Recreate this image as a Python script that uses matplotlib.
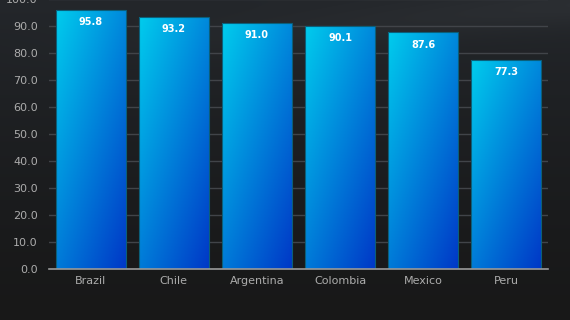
import numpy as np
import matplotlib
matplotlib.use("Agg")
import matplotlib.pyplot as plt

countries = ["Brazil", "Chile", "Argentina", "Colombia", "Mexico", "Peru"]
values = [95.8, 93.2, 91.0, 90.1, 87.6, 77.3]
yticks = [0, 10, 20, 30, 40, 50, 60, 70, 80, 90, 100]

fig = plt.figure(figsize=(5.7, 3.2), dpi=100)

# dark background with a soft lighter swoosh at the top
bg = fig.add_axes([0, 0, 1, 1], zorder=-10)
yy, xx = np.mgrid[0:1:320j, 0:1:570j]
base = 0.095 + 0.045 * (1 - yy) ** 1.5
swoosh = np.exp(-((yy - 0.02 - 0.15 * (1 - xx)) ** 2) / 0.004) * 0.03 * xx
l = base + swoosh
img = np.dstack([l, l + 0.012 * (1 - yy), l + 0.028 * (1 - yy)])
bg.imshow(np.clip(img, 0, 1), aspect="auto", extent=(0, 1, 0, 1), origin="upper")
bg.axis("off")

ax = fig.add_axes([49 / 570, 51 / 320, 499 / 570, 270 / 320])
ax.set_facecolor("none")

x = np.arange(len(countries))
bars = ax.bar(x, values, width=0.84, color="none", edgecolor="#0b5f7a", linewidth=0.8, zorder=3)

# diagonal gradient inside each bar
gy, gx = np.mgrid[0:1:200j, 0:1:50j]
t = np.clip(0.55 * gy + 0.45 * gx, 0, 1)
top = np.array([0.0, 0.80, 0.93])
bot = np.array([0.0, 0.22, 0.78])
grad = top[None, None, :] * (1 - t[..., None]) + bot[None, None, :] * t[..., None]
for b in bars:
    x0, w, h = b.get_x(), b.get_width(), b.get_height()
    im = ax.imshow(grad, aspect="auto", extent=(x0, x0 + w, 0, h), origin="upper", zorder=2)
    im.set_clip_path(b)

for xi, v in zip(x, values):
    ax.text(xi, v - 2.6, f"{v:.1f}", ha="center", va="top", color="white",
            fontsize=7, fontweight="bold", zorder=4)

ax.set_xlim(-0.5, len(countries) - 0.5)
ax.set_ylim(0, 100)
ax.set_yticks(yticks)
ax.set_yticklabels([f"{v:.1f}" for v in yticks])
ax.set_xticks(x)
ax.set_xticklabels(countries)
ax.tick_params(axis="both", length=0, colors="#acacac", labelsize=8)
ax.tick_params(axis="y", pad=8)
ax.tick_params(axis="x", pad=5)
ax.yaxis.grid(True, color="#414449", linewidth=1)
ax.set_axisbelow(True)
for s in ["top", "right", "left"]:
    ax.spines[s].set_visible(False)
ax.spines["bottom"].set_color("#9a9a9a")
ax.spines["bottom"].set_linewidth(1.2)
ax.spines["bottom"].set_zorder(5)

fig.savefig("out.png", dpi=100)
